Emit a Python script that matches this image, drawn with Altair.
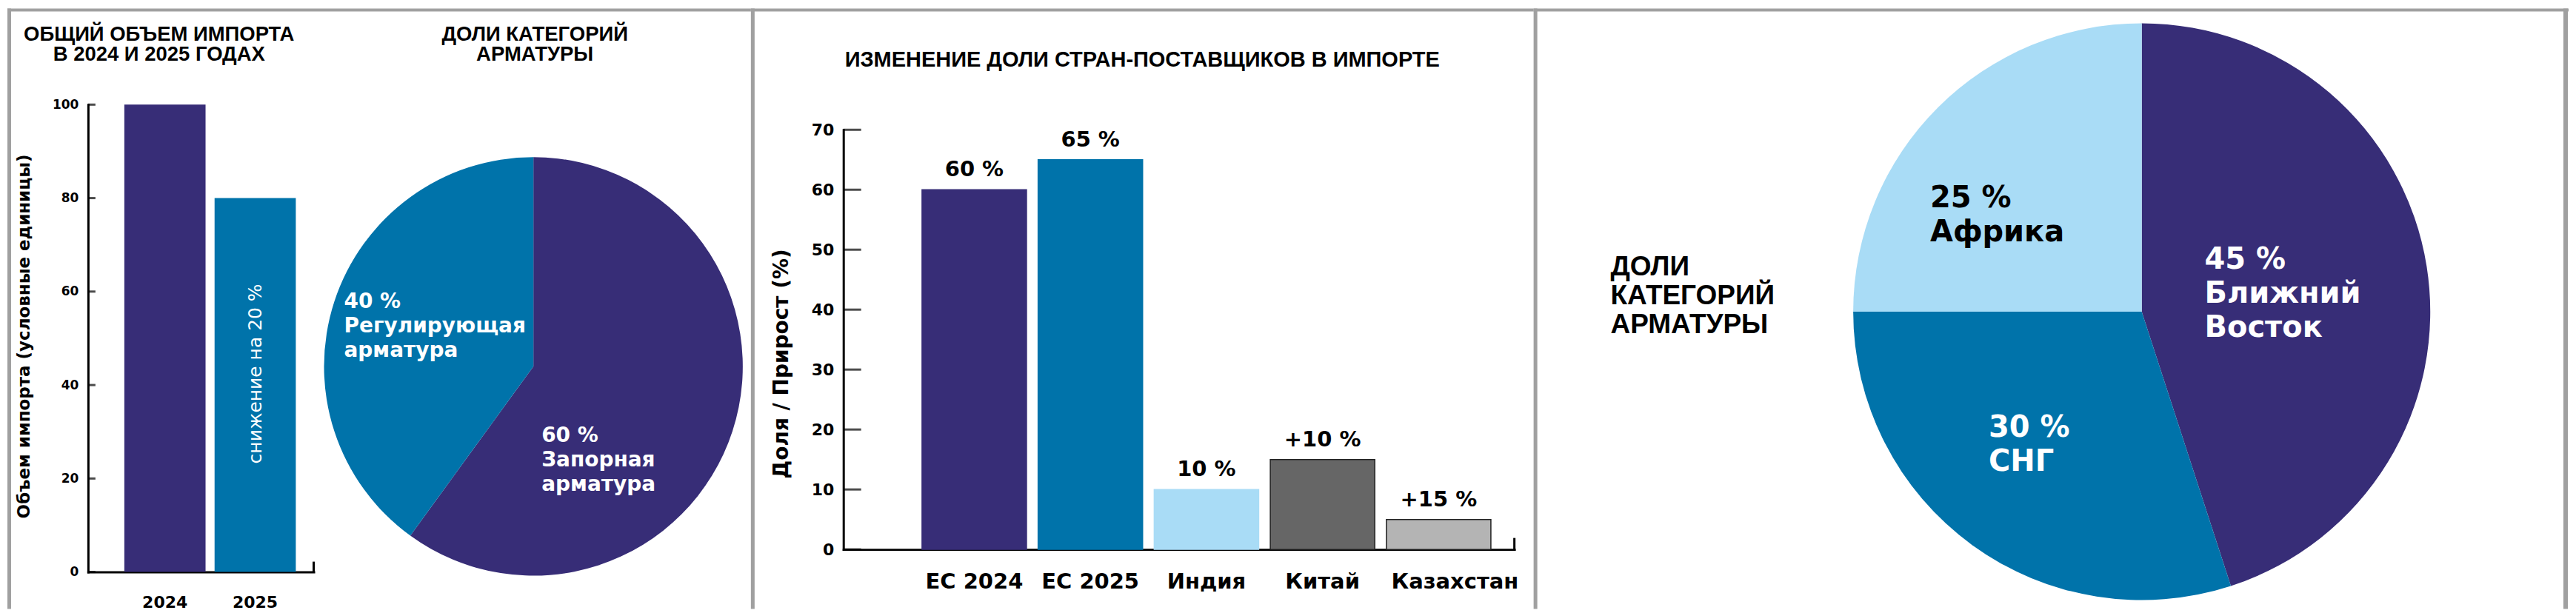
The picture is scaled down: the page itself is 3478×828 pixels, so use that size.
import altair as alt
import pandas as pd

FONT = "DejaVu Sans"
TITLE_FONT = "Liberation Sans"

# --- data -------------------------------------------------------------
years = ["2024", "2025"]
import_volume = [100, 80]
volume_ticks = [0, 20, 40, 60, 80, 100]
volume_note = "снижение на 20 %"

valve_types = ["Запорная арматура", "Регулирующая арматура"]
valve_shares = [60, 40]

countries = ["ЕС 2024", "ЕС 2025", "Индия", "Китай", "Казахстан"]
country_values = [60, 65, 10, 15, 5]
country_labels = ["60 %", "65 %", "10 %", "+10 %", "+15 %"]
share_ticks = [0, 10, 20, 30, 40, 50, 60, 70]

regions = ["Ближний Восток", "СНГ", "Африка"]
region_shares = [45, 30, 25]

# --- style ------------------------------------------------------------
PURPLE = "#372d77"
BLUE = "#0073aa"
LIGHT_BLUE = "#a9dcf6"
DARK_GRAY = "#666666"
LIGHT_GRAY = "#b4b4b4"
FRAME = "#a0a0a0"

H = 812
W1, W2, W3 = 1005, 1058, 1399


def note(text, x, y, size, color="black", align="left", weight="bold",
         line_height=None, font=FONT):
    mark = dict(font=font, fontSize=size, fontWeight=weight, color=color,
                align=align, baseline="alphabetic", lineBreak="\n")
    if line_height:
        mark["lineHeight"] = line_height
    return alt.Chart(pd.DataFrame({"t": [text]})).mark_text(**mark).encode(
        text="t:N", x=alt.value(x), y=alt.value(y)
    )


def frame(width, right=False):
    base = alt.Chart(pd.DataFrame({"k": [0]}))
    parts = [
        base.mark_rule(color=FRAME, strokeWidth=4).encode(
            x=alt.value(0), x2=alt.value(width), y=alt.value(2)
        ),
        base.mark_rule(color=FRAME, strokeWidth=5).encode(
            x=alt.value(2.5), y=alt.value(0), y2=alt.value(H)
        ),
    ]
    if right:
        parts.append(
            base.mark_rule(color=FRAME, strokeWidth=6).encode(
                x=alt.value(width - 4), y=alt.value(0), y2=alt.value(H)
            )
        )
    return parts


def pie(names, shares, colors, cx, cy, r):
    df = pd.DataFrame({"name": names, "share": shares, "order": range(len(names))})
    return alt.Chart(df).mark_arc(outerRadius=r).encode(
        theta=alt.Theta("share:Q", stack=True),
        order=alt.Order("order:Q"),
        color=alt.Color("name:N", scale=alt.Scale(domain=names, range=colors), legend=None),
        x=alt.value(cx),
        y=alt.value(cy),
    )


def pie_label(share, name):
    return f"{share} %\n" + name.replace(" ", "\n")


axis_style = dict(
    domainColor="black", domainWidth=3, domainCap="square", ticks=False, tickSize=0,
    grid=False, labelFont=FONT, labelFontWeight="bold", labelColor="black",
    titleFont=FONT, titleFontWeight="bold", titleColor="black",
)

# --- panel 1: import volume + valve categories -----------------------
vol_df = pd.DataFrame({"year": years, "volume": import_volume})
x_year = alt.X(
    "year:N", sort=years,
    scale=alt.Scale(range=[109, 414], paddingInner=0.1, paddingOuter=0.3, align=0.67),
    axis=alt.Axis(title=None, labelAngle=0, labelFontSize=22, labelPadding=48,
                  labelBaseline="alphabetic", offset=762 - H, **axis_style),
)
y_vol = alt.Y(
    "volume:Q",
    scale=alt.Scale(domain=[0, 100], range=[762, 130], nice=False),
    axis=alt.Axis(values=volume_ticks, labelFontSize=17, labelPadding=13, offset=-109,
                  title="Объем импорта (условные единицы)", titleFontSize=23,
                  titleAngle=270, titleAlign="center", titleBaseline="middle",
                  titleX=-86, titleY=443, **axis_style),
)
vol_bars = alt.Chart(vol_df).mark_bar().encode(
    x=x_year, y=y_vol,
    color=alt.Color("year:N", scale=alt.Scale(domain=years, range=[PURPLE, BLUE]), legend=None),
)
vol_ticks = alt.Chart(pd.DataFrame({"volume": volume_ticks})).mark_tick(
    orient="horizontal", size=10, thickness=3, color="black"
).encode(y=y_vol, x=alt.value(114))
vol_end = alt.Chart(pd.DataFrame({"k": [0]})).mark_rule(color="black", strokeWidth=3).encode(
    x=alt.value(414), y=alt.value(762), y2=alt.value(748)
)
vol_note = alt.Chart(pd.DataFrame({"year": [years[1]], "t": [volume_note]})).mark_text(
    font=FONT, fontSize=25, color="white", angle=270, align="center", baseline="middle", dx=3
).encode(x=x_year, y=alt.value(497), text="t:N")

panel1 = alt.layer(
    *frame(W1),
    vol_bars, vol_ticks, vol_end, vol_note,
    pie(valve_types, valve_shares, [PURPLE, BLUE], 711, 484, 283),
    note("ОБЩИЙ ОБЪЕМ ИМПОРТА\nВ 2024 И 2025 ГОДАХ", 205, 44, 27.5, align="center",
         line_height=27, font=TITLE_FONT),
    note("ДОЛИ КАТЕГОРИЙ\nАРМАТУРЫ", 713, 44, 27.5, align="center",
         line_height=27, font=TITLE_FONT),
    note(pie_label(valve_shares[1], valve_types[1]), 455, 405, 28, color="white", line_height=33),
    note(pie_label(valve_shares[0], valve_types[0]), 722, 586, 28, color="white", line_height=33),
).resolve_scale(color="independent").properties(width=W1, height=H)

# --- panel 2: supplier countries --------------------------------------
cty_df = pd.DataFrame({"country": countries, "value": country_values, "label": country_labels})
x_cty = alt.X(
    "country:N", sort=countries,
    scale=alt.Scale(range=[125, 1032], paddingInner=0.1, paddingOuter=0.44, align=0.77),
    axis=alt.Axis(title=None, labelAngle=0, labelFontSize=29, labelPadding=52,
                  labelBaseline="alphabetic", labelLimit=400, offset=731.5 - H,
                  labelOffset={"condition": {"test": f"datum.value == '{countries[-1]}'",
                                             "value": 22}, "value": 0},
                  **axis_style),
)
y_cty = alt.Y(
    "value:Q",
    scale=alt.Scale(domain=[0, 70], range=[731.5, 164], nice=False),
    axis=alt.Axis(values=share_ticks, labelFontSize=22, labelPadding=13, offset=-125,
                  title="Доля / Прирост (%)", titleFontSize=28,
                  titleAngle=270, titleAlign="center", titleBaseline="middle",
                  titleX=-83, titleY=480, **axis_style),
)
cty_colors = [PURPLE, BLUE, LIGHT_BLUE, DARK_GRAY, LIGHT_GRAY]
cty_strokes = [PURPLE, BLUE, LIGHT_BLUE, "#222222", "#222222"]
cty_bars = alt.Chart(cty_df).mark_bar(strokeWidth=1.5).encode(
    x=x_cty, y=y_cty,
    color=alt.Color("country:N", scale=alt.Scale(domain=countries, range=cty_colors), legend=None),
    stroke=alt.Stroke("country:N", scale=alt.Scale(domain=countries, range=cty_strokes), legend=None),
)
cty_text = alt.Chart(cty_df).mark_text(
    font=FONT, fontSize=29, fontWeight="bold", color="black", baseline="alphabetic", dy=-18
).encode(x=x_cty, y=y_cty, text="label:N")
cty_ticks = alt.Chart(pd.DataFrame({"value": share_ticks})).mark_tick(
    orient="horizontal", size=24, thickness=3, color="black"
).encode(y=y_cty, x=alt.value(137))
cty_end = alt.Chart(pd.DataFrame({"k": [0]})).mark_rule(color="black", strokeWidth=3).encode(
    x=alt.value(1032), y=alt.value(731.5), y2=alt.value(716)
)

panel2 = alt.layer(
    *frame(W2),
    cty_bars, cty_ticks, cty_end, cty_text,
    note("ИЗМЕНЕНИЕ ДОЛИ СТРАН-ПОСТАВЩИКОВ В ИМПОРТЕ", 529, 79, 29, align="center",
         font=TITLE_FONT),
).resolve_scale(stroke="independent").properties(width=W2, height=H)

# --- panel 3: regions --------------------------------------------------
panel3 = alt.layer(
    *frame(W3, right=True),
    pie(regions, region_shares, [PURPLE, BLUE, LIGHT_BLUE], 822, 410, 390),
    note("ДОЛИ\nКАТЕГОРИЙ\nАРМАТУРЫ", 104, 361, 37, line_height=39, font=TITLE_FONT),
    note(pie_label(region_shares[2], regions[2]), 536, 269, 40, line_height=46),
    note(pie_label(region_shares[0], regions[0]), 907, 352, 40, color="white", line_height=46),
    note(pie_label(region_shares[1], regions[1]), 615, 579, 40, color="white", line_height=46),
).properties(width=W3, height=H)

chart = (
    alt.hconcat(panel1, panel2, panel3, spacing=0, bounds="flush")
    .properties(padding=0, background="white")
    .configure_view(stroke=None)
)

chart.save("out.html", embed_options={"renderer": "svg", "actions": False})
